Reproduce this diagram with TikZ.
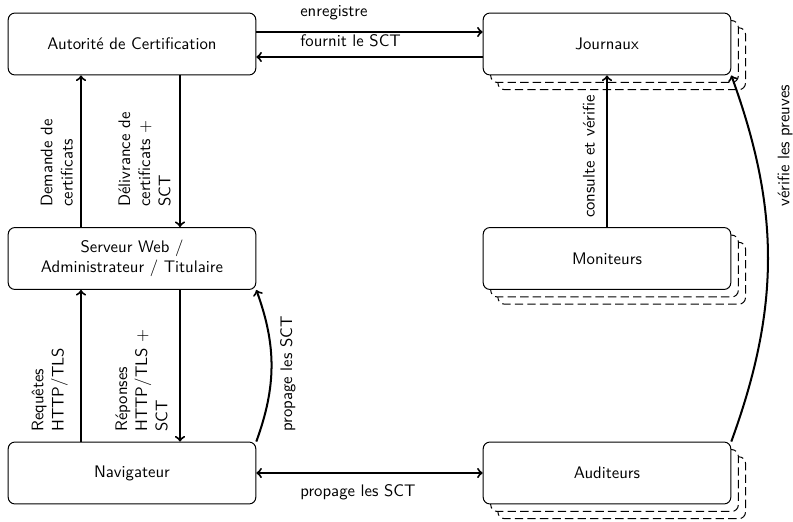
\documentclass[tikz,border=0pt]{standalone}
\usetikzlibrary{shadows}
\begin{document}
\begin{tikzpicture}[x=0.21cm, y=0.21cm, font=\sffamily, >=to]
		\tikzset{
			box/.style={draw, semithick, rounded corners, fill=white, minimum width=5.2cm, minimum height=1.3cm, align=center},
			shadowline/.style={dash pattern=on 5pt off 2.5pt},
			stackbox/.style={box, copy shadow={shadow xshift=8.8pt, shadow yshift=-8.8pt, shadowline}, copy shadow={shadow xshift=4.5pt, shadow yshift=-4.5pt, shadowline}},
			vlbl/.style={rotate=90, anchor=south west, align=left},
			hlbl/.style={anchor=base west},
			flow/.style={->, very thick}
		}
		\useasboundingbox (0,0) rectangle (79.3,-52.1);
		\node [box] (ca) at (13.2,-4.4) {Autorité de Certification};
		\node [stackbox] (jour) at (60.7,-4.4) {Journaux};
		\node [box] (serv) at (13.2,-25.85) {Serveur Web /\\Administrateur / Titulaire};
		\node [stackbox] (mon) at (60.7,-25.85) {Moniteurs};
		\node [box] (nav) at (13.2,-47.3) {Navigateur};
		\node [stackbox] (aud) at (60.7,-47.3) {Auditeurs};
		\draw [flow] (ca.east |- 0,-3.2) -- (jour.west |- 0,-3.2);
		\node [hlbl] (lblEnr) at (29.44,-1.67) {enregistre};
		\draw [flow] (jour.west |- 0,-5.7) -- (ca.east |- 0,-5.7);
		\node [hlbl] (lblFou) at (29.44,-4.63) {fournit le SCT};
		\draw [flow] (serv.north -| 8.1,0) -- (ca.south -| 8.1,0);
		\node [vlbl] (lblDem) at (7.86,-21.26) {Demande de\\certificats};
		\draw [flow] (ca.south -| 18,0) -- (serv.north -| 18,0);
		\node [vlbl] (lblDel) at (17.66,-21.26) {Délivrance de\\certificats +\\SCT};
		\draw [flow] (nav.north -| 8.1,0) -- (serv.south -| 8.1,0);
		\node [vlbl] (lblReq) at (7.36,-43.76) {Requêtes\\HTTP/TLS};
		\draw [flow] (serv.south -| 18,0) -- (nav.north -| 18,0);
		\node [vlbl] (lblRep) at (17.36,-43.76) {Réponses\\HTTP/TLS +\\SCT};
		\draw [flow] (nav.north east) to [bend right=20] (serv.south east);
		\node [vlbl] (lblPropv) at (30.16,-43.73) {propage les SCT};
		\draw [flow, <->] (nav.east) -- (aud.west);
		\node [hlbl] (lblProph) at (29.44,-49.6) {propage les SCT};
		\draw [flow] (mon.north) -- (jour.south);
		\node [vlbl] (lblCons) at (60.06,-22.39) {consulte et vérifie};
		\draw [flow] (aud.north east) to [bend right=20] (jour.south east);
		\node [vlbl] (lblVer) at (79.86,-21.26) {vérifie les preuves};
\end{tikzpicture}
\end{document}
